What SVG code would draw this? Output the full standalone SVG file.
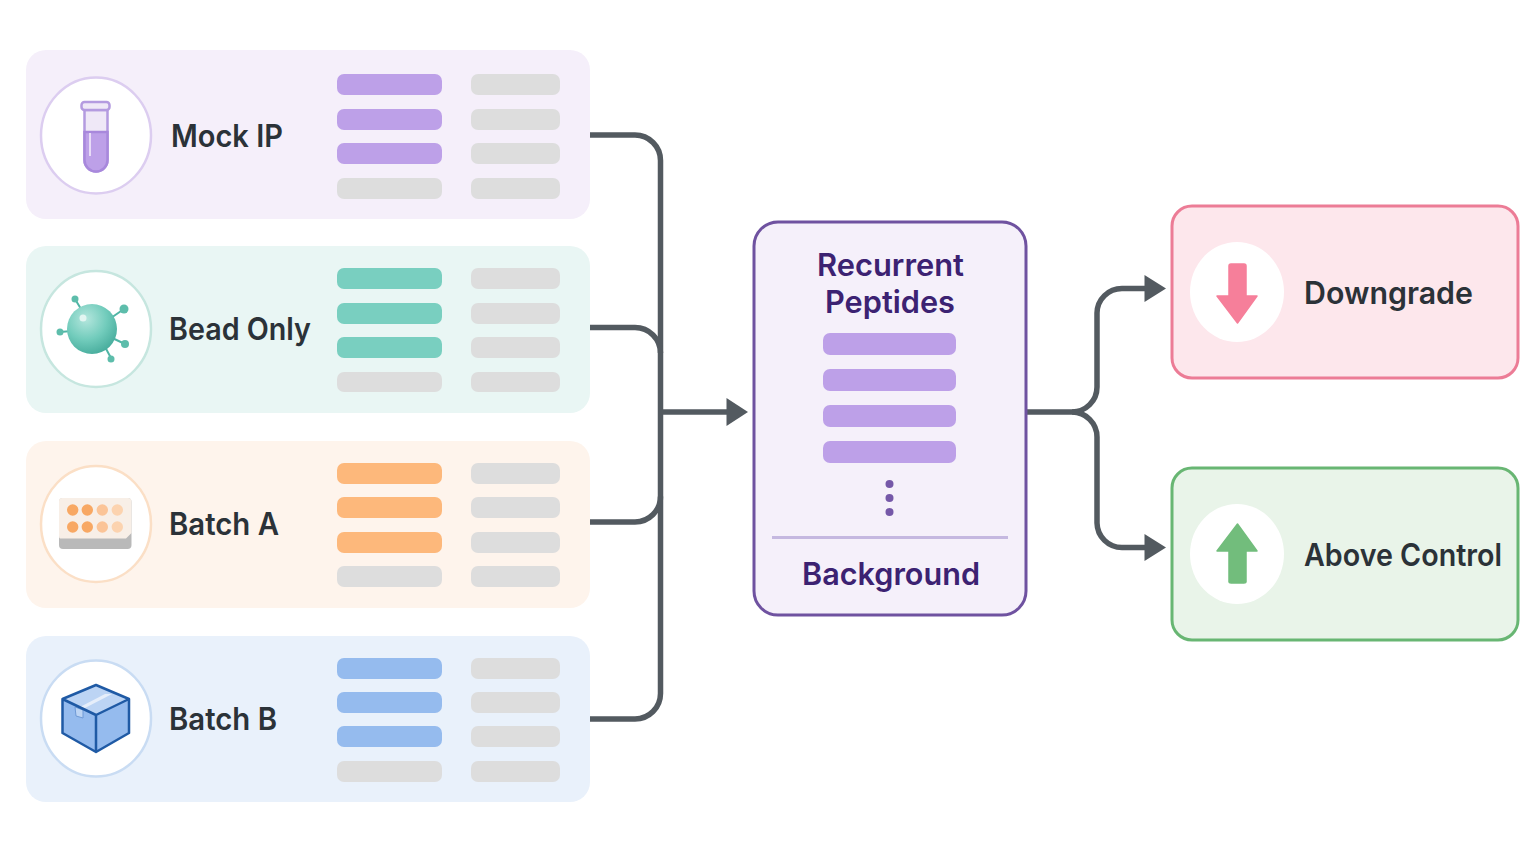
<svg xmlns="http://www.w3.org/2000/svg" width="1536" height="864" viewBox="0 0 1536 864">
<style>
text{font-family:"Inter","Liberation Sans",sans-serif;font-weight:600}
.lab{font-size:31px;fill:#2b3238}
.hd{font-size:31px;fill:#3c2272;text-anchor:middle}
.g{fill:#dddddd}.p{fill:#bda0e8}.t{fill:#79cfc0}.o{fill:#fdb87b}.b{fill:#95bbee}
.conn{fill:none;stroke:#535a60;stroke-width:5.5}
.arr{fill:#535a60}
.ic{fill:#fff;stroke-width:2.5}
</style>
<defs>
<radialGradient id="sph" cx="0.38" cy="0.3" r="0.75"><stop offset="0" stop-color="#b4e6dd"/><stop offset="0.55" stop-color="#72ccbc"/><stop offset="1" stop-color="#45ab9b"/></radialGradient>
</defs>
<rect width="1536" height="864" fill="#fff"/>
<g id="mock-ip">
<rect x="26" y="50" width="564" height="169" rx="20" fill="#f5effa"/>
<ellipse class="ic" cx="96" cy="135.500" rx="55" ry="58" stroke="#dccdf0"/>
<path d="M84.500 110H107.500V160A11.500 11.500 0 0 1 84.500 160Z" fill="#efe8f7" stroke="#b49be0" stroke-width="2.500"/>
<path d="M84.500 132H107.500V160A11.500 11.500 0 0 1 84.500 160Z" fill="#bda0e8" stroke="#a888dc" stroke-width="2.500"/>
<rect x="81.500" y="102" width="28" height="8" rx="3" fill="#efe8f7" stroke="#b49be0" stroke-width="2.500"/>
<rect x="89" y="133" width="2" height="23" fill="#e8dcf7"/>
<text class="lab" x="171" y="147" textLength="112" lengthAdjust="spacingAndGlyphs">Mock IP</text>
<rect class="p" x="337" y="74" width="105" height="21" rx="7"/><rect class="p" x="337" y="109" width="105" height="21" rx="7"/><rect class="p" x="337" y="143" width="105" height="21" rx="7"/><rect class="g" x="337" y="178" width="105" height="21" rx="7"/>
<rect class="g" x="471" y="74" width="89" height="21" rx="7"/><rect class="g" x="471" y="109" width="89" height="21" rx="7"/><rect class="g" x="471" y="143" width="89" height="21" rx="7"/><rect class="g" x="471" y="178" width="89" height="21" rx="7"/>
</g>
<g id="bead-only">
<rect x="26" y="246" width="564" height="167" rx="20" fill="#e9f6f4"/>
<ellipse class="ic" cx="96" cy="329" rx="55" ry="58" stroke="#c6e6df"/>
<g stroke="#4fb5a5" stroke-width="2"><path d="M75 299L84 314M124 309L108 320M125 344L108 336M111 358L104 345M60 332L72 331"/></g>
<g fill="#5dbdab"><circle cx="75" cy="299" r="3.500"/><circle cx="124" cy="309" r="4.500"/><circle cx="125" cy="344" r="4"/><circle cx="111" cy="359" r="3.500"/><circle cx="60" cy="332" r="3.500"/></g>
<circle cx="92" cy="329" r="25" fill="url(#sph)"/><circle cx="83" cy="318" r="3.500" fill="#e2f5f1"/>
<text class="lab" x="169" y="340" textLength="142" lengthAdjust="spacingAndGlyphs">Bead Only</text>
<rect class="t" x="337" y="268" width="105" height="21" rx="7"/><rect class="t" x="337" y="303" width="105" height="21" rx="7"/><rect class="t" x="337" y="337" width="105" height="21" rx="7"/><rect class="g" x="337" y="372" width="105" height="20" rx="7"/>
<rect class="g" x="471" y="268" width="89" height="21" rx="7"/><rect class="g" x="471" y="303" width="89" height="21" rx="7"/><rect class="g" x="471" y="337" width="89" height="21" rx="7"/><rect class="g" x="471" y="372" width="89" height="20" rx="7"/>
</g>
<g id="batch-a">
<rect x="26" y="441" width="564" height="167" rx="20" fill="#fef4ec"/>
<ellipse class="ic" cx="96" cy="524" rx="55" ry="58" stroke="#fbdfc6"/>
<rect x="59" y="498" width="72.500" height="51" rx="4" fill="#b9b9b9"/>
<path d="M62 498H128Q131 498 131.500 501V533L126 538.500H60Q59 538 59 536V501Q59 498 62 498Z" fill="#f8efe7"/>
<g fill="#f8a863"><circle cx="72.700" cy="510" r="5.700"/><circle cx="87.300" cy="510" r="5.700"/><circle cx="72.700" cy="527" r="5.700"/><circle cx="87.300" cy="527" r="5.700"/></g>
<g fill="#fbc497"><circle cx="102.300" cy="510" r="5.700"/><circle cx="102.300" cy="527" r="5.700"/></g>
<g fill="#fcd3af"><circle cx="117.300" cy="510" r="5.700"/><circle cx="117.300" cy="527" r="5.700"/></g>
<text class="lab" x="169" y="535" textLength="110" lengthAdjust="spacingAndGlyphs">Batch A</text>
<rect class="o" x="337" y="463" width="105" height="21" rx="7"/><rect class="o" x="337" y="497" width="105" height="21" rx="7"/><rect class="o" x="337" y="532" width="105" height="21" rx="7"/><rect class="g" x="337" y="566" width="105" height="21" rx="7"/>
<rect class="g" x="471" y="463" width="89" height="21" rx="7"/><rect class="g" x="471" y="497" width="89" height="21" rx="7"/><rect class="g" x="471" y="532" width="89" height="21" rx="7"/><rect class="g" x="471" y="566" width="89" height="21" rx="7"/>
</g>
<g id="batch-b">
<rect x="26" y="636" width="564" height="166" rx="20" fill="#e9f1fb"/>
<ellipse class="ic" cx="96" cy="718.500" rx="55" ry="58" stroke="#c9dcf3"/>
<path d="M62.500 699L96 685L129 699V733L96 752L62.500 733Z" fill="#95bbee"/>
<path d="M62.500 699L96 685L129 699L96 715Z" fill="#bcd4f4"/>
<path d="M80 707L105 694L112 694L85 708Z" fill="#e6eefa"/>
<path d="M75 707L83 710V718L76 716Z" fill="#bcd4f4" stroke="#6f9ad6" stroke-width="1"/>
<path d="M62.500 699L96 685L129 699V733L96 752L62.500 733ZM62.500 699L96 715L129 699M96 715V752" fill="none" stroke="#1f5aa5" stroke-width="2.500" stroke-linejoin="round"/>
<text class="lab" x="169" y="730" textLength="108" lengthAdjust="spacingAndGlyphs">Batch B</text>
<rect class="b" x="337" y="658" width="105" height="21" rx="7"/><rect class="b" x="337" y="692" width="105" height="21" rx="7"/><rect class="b" x="337" y="726" width="105" height="21" rx="7"/><rect class="g" x="337" y="761" width="105" height="21" rx="7"/>
<rect class="g" x="471" y="658" width="89" height="21" rx="7"/><rect class="g" x="471" y="692" width="89" height="21" rx="7"/><rect class="g" x="471" y="726" width="89" height="21" rx="7"/><rect class="g" x="471" y="761" width="89" height="21" rx="7"/>
</g>
<g id="connectors">
<path class="conn" d="M590 135H635A25.500 25.500 0 0 1 660.500 160.500V693.500A25.500 25.500 0 0 1 635 719H590"/>
<path class="conn" d="M590 327.500H635A25.500 25.500 0 0 1 660.500 353"/>
<path class="conn" d="M590 522H635A25.500 25.500 0 0 0 660.500 496.500"/>
<path class="conn" d="M660 412H728"/>
<path class="arr" d="M726.500 398L748 412L726.500 426Z"/>
<path class="conn" d="M1027 412H1072A25 25 0 0 0 1097 387V313A25 25 0 0 1 1122 288.500H1146"/>
<path class="conn" d="M1072 412A25 25 0 0 1 1097 437V523A25 25 0 0 0 1122 547.500H1146"/>
<path class="arr" d="M1144.500 275L1166 288.500L1144.500 302ZM1144.500 534L1166 547.500L1144.500 561Z"/>
</g>
<g id="recurrent-peptides">
<rect x="754" y="222" width="272" height="393" rx="24" fill="#f5f0fa" stroke="#6f52a0" stroke-width="3"/>
<text class="hd" x="890.500" y="276" textLength="147" lengthAdjust="spacingAndGlyphs">Recurrent</text>
<text class="hd" x="890" y="313" textLength="130" lengthAdjust="spacingAndGlyphs">Peptides</text>
<rect class="p" x="823" y="333" width="133" height="22" rx="7"/><rect class="p" x="823" y="369" width="133" height="22" rx="7"/><rect class="p" x="823" y="405" width="133" height="22" rx="7"/><rect class="p" x="823" y="441" width="133" height="22" rx="7"/>
<g fill="#7558a8"><circle cx="889.500" cy="484" r="4"/><circle cx="889.500" cy="498" r="4"/><circle cx="889.500" cy="512" r="4"/></g>
<rect x="772" y="536" width="236" height="3" fill="#c5b8e0"/>
<text class="hd" x="891" y="585" textLength="178" lengthAdjust="spacingAndGlyphs">Background</text>
</g>
<g id="downgrade">
<rect x="1172" y="206" width="346" height="172" rx="20" fill="#fde7ec" stroke="#ec7c96" stroke-width="3"/>
<ellipse cx="1237" cy="292" rx="47" ry="50" fill="#fff"/>
<path d="M1229 266Q1229 264 1231 264H1244Q1246 264 1246 266V296H1257L1237.500 323L1217 296H1229Z" fill="#f67f9a" stroke="#f67f9a" stroke-width="1.500" stroke-linejoin="round"/>
<text class="lab" x="1304" y="304" textLength="169" lengthAdjust="spacingAndGlyphs">Downgrade</text>
</g>
<g id="above-control">
<rect x="1172" y="468" width="346" height="172" rx="20" fill="#e9f4e9" stroke="#68b673" stroke-width="3"/>
<ellipse cx="1237" cy="554" rx="47" ry="50" fill="#fff"/>
<path d="M1229 582Q1229 583 1231 583H1244Q1246 583 1246 582V551H1257L1237.500 524L1217 551H1229Z" fill="#72bd7c" stroke="#72bd7c" stroke-width="1.500" stroke-linejoin="round"/>
<text class="lab" x="1304" y="566" textLength="198" lengthAdjust="spacingAndGlyphs">Above Control</text>
</g>
</svg>
